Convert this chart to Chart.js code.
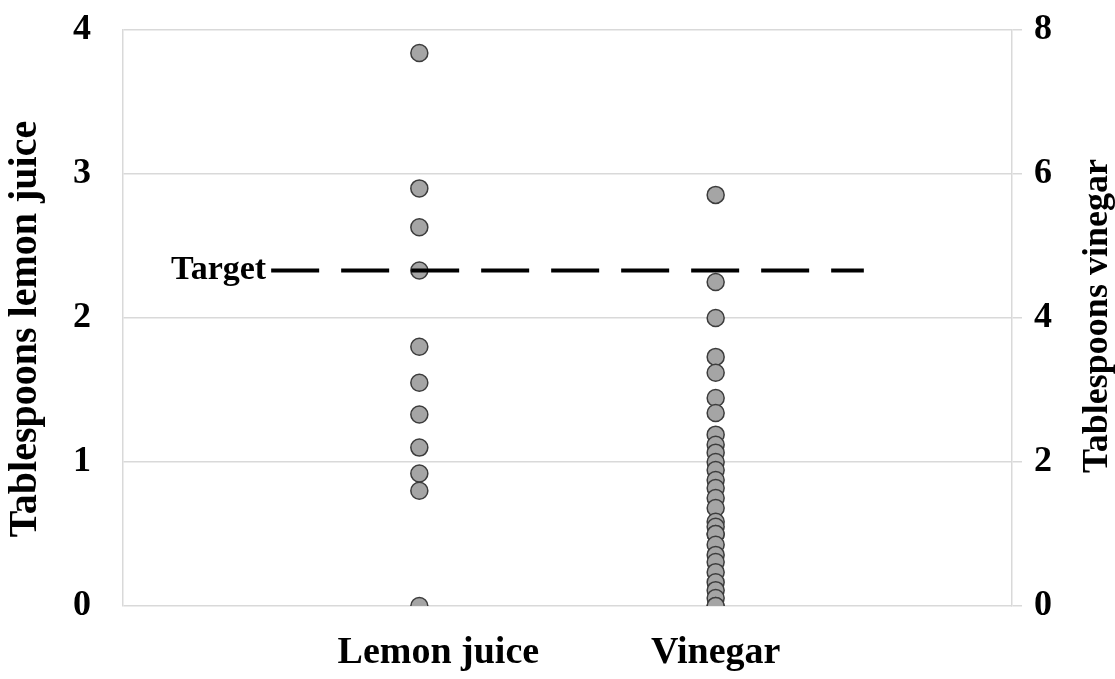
<html>
<head>
<script src="https://cdn.jsdelivr.net/npm/chart.js@4.4.1/dist/chart.umd.min.js"></script>
<style>
  body { margin: 0; background: #fff; }
  #wrap { width: 1115px; height: 679px; }
</style>
</head>
<body>
<div id="wrap"><canvas id="mychart" width="1115" height="679"></canvas></div>
<script>
// categories on the x axis (positions 1 and 2)
const categories = ['', 'Lemon juice', 'Vinegar', ''];

// tablespoons lemon juice (left axis)
const lemon = [3.84, 2.9, 2.63, 2.33, 1.8, 1.55, 1.33, 1.1, 0.92, 0.8, 0];

// tablespoons vinegar (right axis)
const vinegar = [5.71, 4.5, 4.0, 3.46, 3.24, 2.89, 2.68, 2.38, 2.24, 2.13, 2.0, 1.89,
  1.75, 1.64, 1.5, 1.36, 1.17, 1.1, 1.0, 1.0, 0.85, 0.71, 0.61, 0.47, 0.33, 0.22, 0.11, 0, 0];

const target = 2.33;
const targetLabel = 'Target';

const leftTitle = 'Tablespoons lemon juice';
const rightTitle = 'Tablespoons vinegar';

const serif = '"Liberation Serif", "Times New Roman", serif';
const pointFill = '#a5a5a5';
const pointEdge = '#3c3c3c';
const gridCol = '#d9d9d9';

// "Target" label and the two rotated axis titles (both read bottom to top)
const extraText = {
  id: 'extraText',
  afterDatasetsDraw(c) {
    const ctx = c.ctx;
    const a = c.chartArea;
    const x = c.scales.x.getPixelForValue(0.5);
    const y = c.scales.y.getPixelForValue(target);
    ctx.save();
    ctx.fillStyle = '#000';
    ctx.font = 'bold 34px ' + serif;
    ctx.textAlign = 'right';
    ctx.textBaseline = 'middle';
    ctx.fillText(targetLabel, x - 5, y);

    ctx.textAlign = 'center';
    [[a.left - 97, a.top + 299, 40, leftTitle], [a.right + 86, a.top + 286, 36, rightTitle]].forEach(([tx, ty, fs, txt]) => {
      ctx.save();
      ctx.font = 'bold ' + fs + 'px ' + serif;
      ctx.translate(tx, ty);
      ctx.rotate(-Math.PI / 2);
      ctx.fillText(txt, 0, 0);
      ctx.restore();
    });
    ctx.restore();
  }
};

const noPad = s => { s.paddingTop = 0; s.paddingBottom = 0; };

const chart = new Chart(document.getElementById('mychart'), {
  type: 'scatter',
  data: {
    datasets: [
      {
        type: 'line',
        label: targetLabel,
        data: [{ x: 0.5, y: target }, { x: 2.5, y: target }],
        borderColor: '#000',
        borderWidth: 4,
        borderDash: [48, 22],
        pointRadius: 0,
        fill: false,
        yAxisID: 'y',
        order: 0
      },
      {
        label: 'Lemon juice',
        data: lemon.map(v => ({ x: 1, y: v })),
        backgroundColor: pointFill,
        borderColor: pointEdge,
        borderWidth: 1.5,
        pointRadius: 8.5,
        yAxisID: 'y',
        order: 1
      },
      {
        label: 'Vinegar',
        data: vinegar.map(v => ({ x: 2, y: v })),
        backgroundColor: pointFill,
        borderColor: pointEdge,
        borderWidth: 1.5,
        pointRadius: 8.5,
        yAxisID: 'y1',
        order: 2
      }
    ]
  },
  options: {
    responsive: false,
    animation: false,
    layout: { padding: { top: 30, left: 0, right: 0, bottom: 0 } },
    plugins: { legend: { display: false }, tooltip: { enabled: false } },
    scales: {
      x: {
        type: 'linear',
        min: 0,
        max: 3,
        afterBuildTicks: s => { s.ticks = [{ value: 1 }, { value: 2 }]; },
        afterFit: s => { s.height = 73; s.paddingLeft = 0; s.paddingRight = 0; },
        ticks: {
          autoSkip: false,
          // the first label sits a little right of its column in the original
          callback: v => (v === 1 ? '\u2002\u2002' : '') + (categories[v] || ''),
          font: { family: serif, size: 38, weight: 'bold' },
          color: '#000',
          padding: 16,
          maxRotation: 0
        },
        grid: { display: false },
        border: { display: false }
      },
      y: {
        position: 'left',
        min: 0,
        max: 4,
        afterFit: s => { s.width = 123; noPad(s); },
        ticks: {
          stepSize: 1,
          font: { family: serif, size: 36, weight: 'bold' },
          color: '#000',
          padding: 32
        },
        grid: { color: gridCol, drawTicks: false, lineWidth: 1.5 },
        border: { display: true, color: gridCol, width: 1.5 }
      },
      y1: {
        position: 'right',
        min: 0,
        max: 8,
        afterFit: s => { s.width = 103; noPad(s); },
        ticks: {
          stepSize: 2,
          font: { family: serif, size: 36, weight: 'bold' },
          color: '#000',
          padding: 12
        },
        grid: { drawOnChartArea: false, color: gridCol, tickLength: 10, lineWidth: 1.5 },
        border: { display: true, color: gridCol, width: 1.5 }
      }
    }
  },
  plugins: [extraText]
});
</script>
</body>
</html>
